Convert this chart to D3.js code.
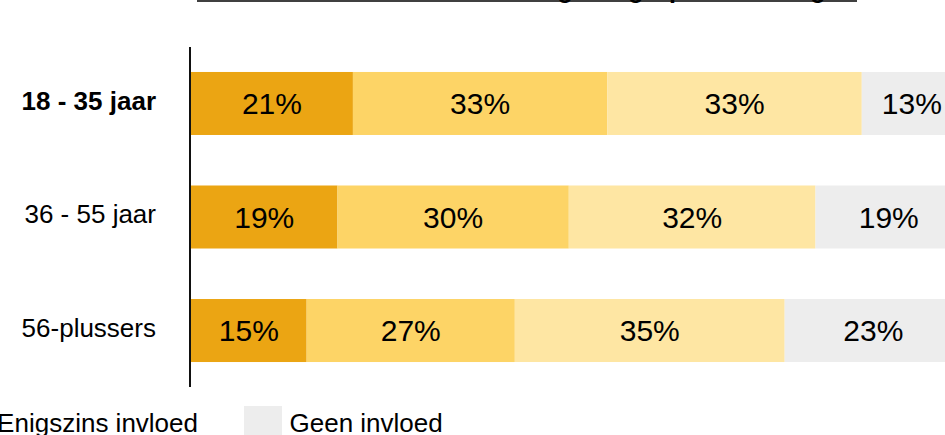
<!DOCTYPE html>
<html><head><meta charset="utf-8">
<script src="https://cdn.jsdelivr.net/npm/d3@7"></script>
<style>html,body{margin:0;padding:0;background:#fff;overflow:hidden}</style>
</head><body><svg id="c" width="945" height="435"></svg>
<script>
// ---- data ----
const categories = ["18 - 35 jaar", "36 - 55 jaar", "56-plussers"];
const seriesNames = ["Veel invloed", "Redelijk veel invloed", "Enigszins invloed", "Geen invloed"];
const veelInvloed = [21, 19, 15];
const redelijkInvloed = [33, 30, 27];
const enigszinsInvloed = [33, 32, 35];
const geenInvloed = [13, 19, 23];
const seriesColors = ["#EBA513", "#FDD466", "#FEE6A3", "#EDEDED"];
const titleText = "Mate van invloed van de omgeving op beslissingen";

// ---- build table ----
const seriesValues = [veelInvloed, redelijkInvloed, enigszinsInvloed, geenInvloed];
const table = categories.map((c, i) => {
  const row = {cat: c};
  seriesNames.forEach((s, j) => row[s] = seriesValues[j][i]);
  return row;
});
const stacked = d3.stack().keys(seriesNames)(table);

const svg = d3.select("#c");
const font = "'Liberation Sans', Arial, sans-serif";

const x = d3.scaleLinear().domain([0, 100]).range([191, 962]);
const y = d3.scaleBand().domain(categories).range([47, 387]).paddingInner(0.445).paddingOuter(0.22);
const color = d3.scaleOrdinal().domain(seriesNames).range(seriesColors);

// title (cut off at top, as in the reference)
svg.append("text")
  .attr("x", 527).attr("y", -2.5)
  .attr("text-anchor", "middle")
  .attr("textLength", 660).attr("lengthAdjust", "spacing")
  .style("font-family", font).style("font-size", "25px").style("font-weight", "bold")
  .text(titleText);
svg.append("line").attr("x1", 197).attr("x2", 857).attr("y1", 1).attr("y2", 1)
  .attr("stroke", "#000").attr("stroke-width", 1.5);

// bars
const layers = svg.append("g").selectAll("g").data(stacked).join("g")
  .attr("fill", d => color(d.key));
layers.selectAll("rect").data(d => d).join("rect")
  .attr("x", d => x(d[0]))
  .attr("y", d => y(d.data.cat))
  .attr("width", d => x(d[1]) - x(d[0]))
  .attr("height", y.bandwidth());

// value labels
const lab = svg.append("g");
stacked.forEach(layer => {
  lab.selectAll(null).data(layer).join("text")
    .attr("x", d => (x(d[0]) + x(d[1])) / 2)
    .attr("y", d => y(d.data.cat) + y.bandwidth() / 2 + 10.7)
    .attr("text-anchor", "middle")
    .style("font-family", font).style("font-size", "30px").attr("fill", "#000")
    .text(d => (d[1] - d[0]) + "%");
});

// category axis
const axis = d3.axisLeft(y).tickSize(0).tickPadding(0);
const ag = svg.append("g").attr("transform", "translate(190,0)").call(axis);
ag.select(".domain").remove();
ag.append("line").attr("x1", 0).attr("x2", 0).attr("y1", 47).attr("y2", 387)
  .attr("stroke", "#111").attr("stroke-width", 2);
ag.selectAll(".tick text")
  .attr("x", -34).attr("dy", null).attr("y", 6.3)
  .attr("text-anchor", "end")
  .style("font-family", font).style("font-size", "26px").attr("fill", "#000")
  .style("font-weight", (d, i) => i === 0 ? "bold" : "normal");

// legend (laid out right-to-left from the last item)
const leg = svg.append("g");
let swX = 244;
for (let j = seriesNames.length - 1; j >= 0; j--) {
  leg.append("rect").attr("x", swX).attr("y", 406).attr("width", 38).attr("height", 40)
    .attr("fill", seriesColors[j]);
  leg.append("text").attr("x", swX + 38 + 7.5).attr("y", 432)
    .style("font-family", font).style("font-size", "26px").attr("fill", "#000")
    .text(seriesNames[j]);
  if (j > 0) {
    const prevW = leg.append("text").style("font-family", font).style("font-size", "26px")
      .text(seriesNames[j - 1]);
    const w = prevW.node().getComputedTextLength();
    prevW.remove();
    swX = swX - 46 - w - 7.5 - 38;
  }
}
</script></body></html>
